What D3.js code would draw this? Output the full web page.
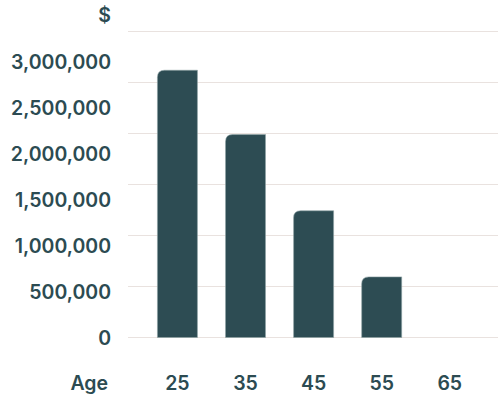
<!DOCTYPE html>
<html><head><meta charset="utf-8">
<script src="https://cdn.jsdelivr.net/npm/d3@7"></script>
<style>html,body{margin:0;padding:0;background:#fff;}</style>
</head><body>
<svg id="c" width="498" height="398"></svg>
<script>
const categories = ["25", "35", "45", "55", "65"];
const values = [2910000, 2210000, 1380000, 660000, 0];
const tickValues = [0, 500000, 1000000, 1500000, 2000000, 2500000, 3000000];
const xTitle = "Age";
const yTitle = "$";

const svg = d3.select("#c");
const ink = "#2c4b52";
const barColor = "#2d4c53";
const font = "Inter, 'DejaVu Sans', sans-serif";
const fs = "19.5px";

const y = d3.scaleLinear().domain([0, 3000000]).range([337.5, 62]);
const yGrid = d3.scaleLinear().domain([0, 3000000]).range([337, 31]);
const x = d3.scaleBand().domain(categories).range([137, 490.2]).paddingInner(0.4126).paddingOuter(0.3);

svg.append("g").selectAll("line").data(tickValues).join("line")
  .attr("x1", 128).attr("x2", 498)
  .attr("y1", d => Math.round(yGrid(d)) + 0.5).attr("y2", d => Math.round(yGrid(d)) + 0.5)
  .attr("stroke", "#e9e2df").attr("stroke-width", 1);

const r = 7;
const barData = values.map((v, i) => ({c: categories[i], v})).filter(d => d.v > 0);
svg.append("g").selectAll("path").data(barData).join("path")
  .attr("d", d => {
    const x0 = x(d.c), x1 = x0 + x.bandwidth(), y0 = y(d.v), yb = y(0);
    return `M${x0},${yb}V${y0 + r}Q${x0},${y0} ${x0 + r},${y0}H${x1}V${yb}Z`;
  })
  .attr("fill", barColor).attr("stroke", "#8fa2a5").attr("stroke-width", 0.6);

function txt(sel) {
  return sel.attr("fill", ink)
    .style("font-family", font).style("font-weight", 600).style("font-size", fs);
}

txt(svg.append("g").selectAll("text").data(tickValues).join("text")
  .attr("x", 111).attr("y", d => y(d)).attr("dy", "0.36em")
  .attr("text-anchor", "end"))
  .text(d => d3.format(",")(d));

txt(svg.append("text").attr("x", 111).attr("y", 15).attr("dy", "0.36em")
  .attr("text-anchor", "end")).text(yTitle);

txt(svg.append("g").selectAll("text").data(categories).join("text")
  .attr("x", d => x(d) + x.bandwidth() / 2).attr("y", 383).attr("dy", "0.36em")
  .attr("text-anchor", "middle"))
  .text(d => d);

txt(svg.append("text").attr("x", 108).attr("y", 383).attr("dy", "0.36em")
  .attr("text-anchor", "end")).text(xTitle);
</script>
</body></html>
